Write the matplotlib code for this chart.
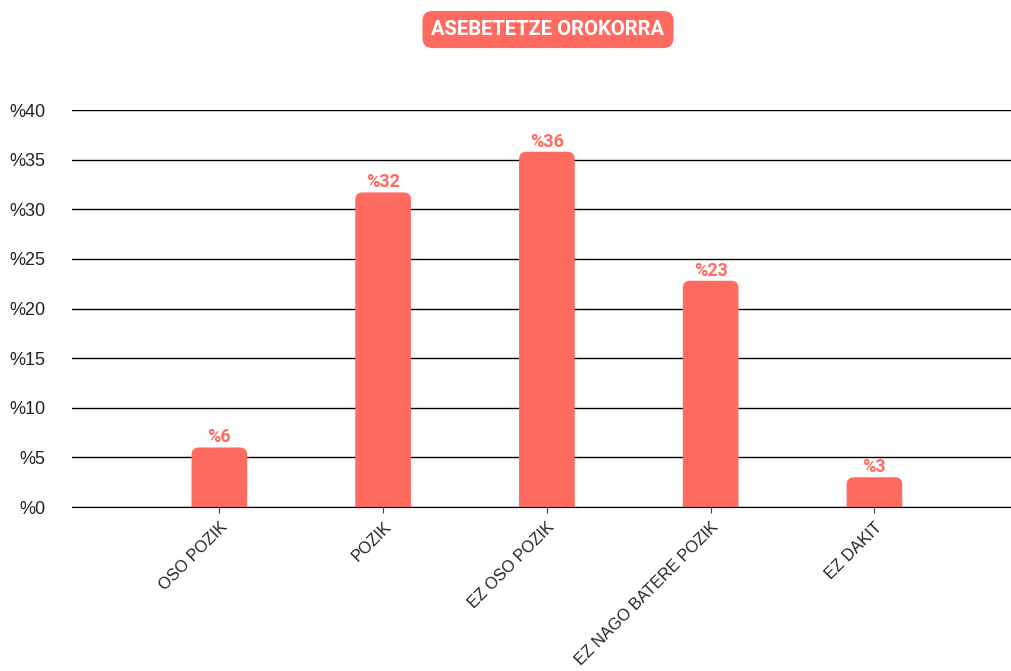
import matplotlib.pyplot as plt
from matplotlib.patches import FancyBboxPatch

plt.rcParams['font.family'] = ['Roboto', 'DejaVu Sans']

categories = ['OSO POZIK', 'POZIK', 'EZ OSO POZIK', 'EZ NAGO BATERE POZIK', 'EZ DAKIT']
values = [6.0, 31.7, 35.8, 22.8, 3.0]
labels = ['%6', '%32', '%36', '%23', '%3']
yticks = [0, 5, 10, 15, 20, 25, 30, 35, 40]

red = '#ff6b61'

fig = plt.figure(figsize=(10.12, 6.71), dpi=100)
ax = fig.add_axes([0.0711, 0.2444, 0.9289, 0.5916])
ax.set_xlim(-0.9, 4.84)
ax.set_ylim(0, 40)

# px per data unit, used to keep corner rounding circular
w = 0.34
x_scale = 0.9289 * 1012 / 5.74
y_scale = 0.5916 * 671 / 40
r = 0.045
for i, v in enumerate(values):
    # start below zero so the bottom corners get clipped away
    p = FancyBboxPatch((i - w / 2, -2), w, v + 2,
                       boxstyle='round,pad=0,rounding_size=%f' % r,
                       mutation_aspect=x_scale / y_scale,
                       fc=red, ec='none', zorder=3)
    ax.add_patch(p)
    ax.text(i, v + 0.1, labels[i], ha='center', va='bottom', color=red,
            fontsize=13, fontweight='bold', zorder=4)

ax.set_yticks(yticks)
ax.set_yticklabels(['%' + str(t) for t in yticks], fontsize=13, color='#222222',
                   family='Liberation Sans')
ax.yaxis.grid(True, color='black', linewidth=1)
ax.set_axisbelow(True)
ax.tick_params(axis='y', length=0, pad=19)
ax.set_xticks(range(len(categories)))
ax.set_xticklabels(categories, rotation=45, ha='right', rotation_mode='anchor',
                   fontsize=11.7, color='#222222', family='Liberation Sans')
ax.tick_params(axis='x', length=4, color='#444444', pad=5)
for s in ['top', 'right', 'left']:
    ax.spines[s].set_visible(False)
ax.spines['bottom'].set_color('black')
ax.spines['bottom'].set_zorder(5)

fig.text(0.5415, 0.956, 'ASEBETETZE OROKORRA', ha='center', va='center',
         color='white', fontsize=14.5, fontweight='bold',
         bbox=dict(boxstyle='round,pad=0.45,rounding_size=0.5', fc=red, ec='none'))

fig.savefig('out.png', dpi=100)
